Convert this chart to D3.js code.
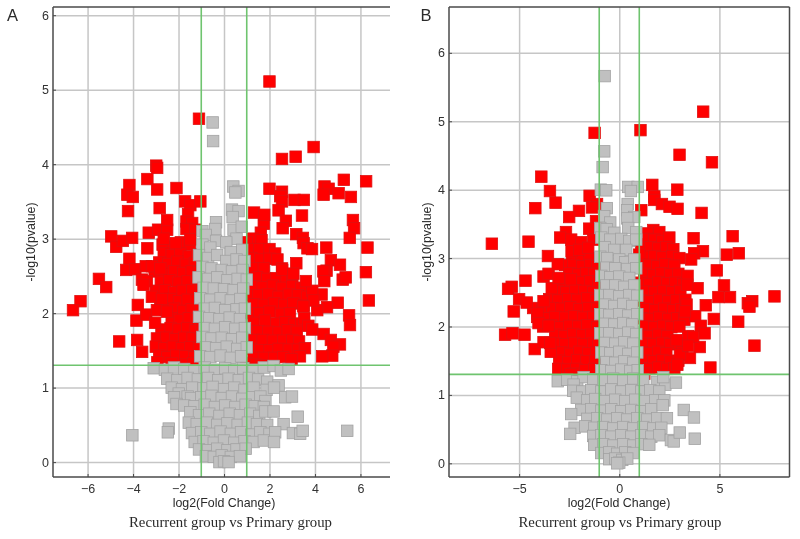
<!DOCTYPE html>
<html><head><meta charset="utf-8"><title>Volcano plots</title>
<script src="https://cdn.jsdelivr.net/npm/d3@7"></script>
<style>html,body{margin:0;padding:0;background:#fff}svg{display:block;filter:blur(.35px)}</style></head>
<body><svg id="c" width="800" height="539"></svg>
<script>
const xTicksA=[-6,-4,-2,0,2,4,6], yTicksA=[0,1,2,3,4,5,6];
const xTicksB=[-5,0,5], yTicksB=[0,1,2,3,4,5,6];
const foldCut=[-1,1], pCut=[1.3];
const xLabel="log2(Fold Change)", yLabel="-log10(pvalue)", caption="Recurrent group vs Primary group";
const panelNames=["A","B"];

const aRedLeftSparse=[[-1.1,4.61],[-2.98,3.98],[-2.94,3.95],[-3.37,3.8],[-2.94,3.66],[-4.16,3.72],[-4.25,3.59],[-4.01,3.56],[-2.09,3.68],[-4.22,3.37],[-2.83,3.41],[-1.71,3.5],[-1.48,3.45],[-1.04,3.5],[-4.96,3.03],[-4.74,2.89],[-4.45,2.97],[-4.04,3.01],[-3.31,3.08],[-2.9,3.12],[-2.5,3.12],[-2.5,3.25],[-1.58,3.33],[-1.65,3.23],[-1.4,3.21],[-1.65,3.13],[-1.26,3.12],[-3.37,2.87],[-4.16,2.73],[-1.48,2.99],[-2.65,3.0],[-2.13,2.94],[-5.5,2.46],[-5.18,2.35],[-6.31,2.16],[-6.64,2.04],[-3.79,2.11],[-3.85,1.9],[-3.42,1.98],[-3.03,1.87],[-4.61,1.62],[-3.82,1.64],[-3.6,1.48],[-4.3,2.58],[-3.9,2.59],[-3.44,2.63],[-3.17,2.63],[-2.8,2.6],[-3.61,2.45],[-3.39,2.43],[-3.54,2.38],[-3.17,2.22],[-2.73,2.19],[-2.95,2.04],[-2.51,2.02]];
const aRedLeftDense=[[-2.7,2.92],[-2.25,2.9],[-1.9,2.95],[-1.5,2.92],[-2.65,2.8],[-2.3,2.78],[-1.92,2.8],[-1.55,2.76],[-1.18,2.79],[-2.85,2.68],[-2.45,2.66],[-2.05,2.69],[-1.68,2.65],[-1.28,2.67],[-3.05,2.56],[-2.6,2.53],[-2.2,2.56],[-1.8,2.54],[-1.42,2.56],[-1.1,2.55],[-2.78,2.42],[-2.4,2.44],[-2.0,2.41],[-1.6,2.43],[-1.22,2.42],[-3.0,2.3],[-2.6,2.31],[-2.2,2.28],[-1.82,2.3],[-1.4,2.31],[-1.02,2.3],[-2.8,2.17],[-2.35,2.19],[-1.98,2.16],[-1.6,2.18],[-1.2,2.17],[-2.6,2.05],[-2.2,2.06],[-1.8,2.03],[-1.42,2.05],[-1.05,2.04],[-2.3,1.93],[-1.95,1.91],[-1.55,1.93],[-1.2,1.92],[-2.75,1.78],[-2.35,1.8],[-2.0,1.78],[-1.62,1.8],[-1.25,1.77],[-0.98,1.78],[-2.95,1.66],[-2.55,1.67],[-2.15,1.65],[-1.75,1.67],[-1.38,1.66],[-1.02,1.65],[-3.0,1.55],[-2.62,1.53],[-2.25,1.55],[-1.85,1.53],[-1.48,1.54],[-1.1,1.53],[-2.85,1.43],[-2.5,1.41],[-2.1,1.43],[-1.7,1.42],[-1.3,1.41],[-1.0,1.42],[-2.93,1.34],[-2.3,1.33],[-1.68,1.31],[-1.35,1.33],[-1.03,1.32]];
const aRedRightSparse=[[2.0,5.11],[3.94,4.23],[2.55,4.07],[3.15,4.1],[6.25,3.77],[5.27,3.79],[4.42,3.7],[4.6,3.67],[4.38,3.59],[5.04,3.61],[5.58,3.56],[2.0,3.67],[2.55,3.63],[2.47,3.57],[2.55,3.5],[3.1,3.52],[3.51,3.52],[2.4,3.38],[3.43,3.31],[2.72,3.24],[2.58,3.14],[5.67,3.25],[5.72,3.14],[5.53,3.01],[6.31,2.88],[4.5,2.88],[3.18,3.06],[3.47,3.01],[3.5,2.94],[3.67,2.87],[3.87,2.86],[3.18,2.67],[6.24,2.55],[6.37,2.17],[5.5,1.97],[5.54,1.84],[5.0,2.14],[4.53,2.08],[4.1,2.04],[4.29,2.25],[3.88,2.3],[3.93,2.17],[4.7,2.71],[5.1,2.65],[4.51,2.57],[4.37,2.56],[4.41,2.43],[5.22,2.45],[5.35,2.48],[3.6,2.43],[2.56,2.58],[3.05,2.53],[3.53,1.93],[3.71,1.83],[3.88,1.78],[4.38,1.72],[4.7,1.64],[5.1,1.58],[4.81,1.55],[4.76,1.43],[4.32,1.42],[3.56,1.53],[3.34,1.42],[2.97,1.38],[3.49,2.09],[1.32,3.35],[1.77,3.32]];
const aRedRightDense=[[1.75,3.2],[1.62,3.08],[1.25,3.0],[1.65,2.98],[1.0,2.95],[1.15,2.86],[1.55,2.86],[2.0,2.86],[2.25,2.8],[1.2,2.74],[1.6,2.72],[2.0,2.73],[2.35,2.72],[1.3,2.6],[1.75,2.6],[2.55,2.6],[1.1,2.47],[1.45,2.48],[1.9,2.46],[2.3,2.47],[2.75,2.46],[3.0,2.48],[1.3,2.36],[1.7,2.35],[2.15,2.37],[2.55,2.34],[3.0,2.36],[3.4,2.34],[1.05,2.24],[1.5,2.24],[1.95,2.25],[2.4,2.22],[2.85,2.25],[3.25,2.24],[3.65,2.22],[1.3,2.12],[1.75,2.11],[2.2,2.13],[2.65,2.11],[3.05,2.13],[3.5,2.1],[1.1,2.0],[1.55,2.0],[2.0,2.02],[2.5,1.99],[2.9,2.0],[1.3,1.87],[1.8,1.9],[2.3,1.86],[2.7,1.88],[3.1,1.85],[3.4,1.86],[1.1,1.76],[1.5,1.76],[1.95,1.75],[2.4,1.74],[2.8,1.77],[3.2,1.75],[1.3,1.64],[1.7,1.64],[2.15,1.63],[2.6,1.63],[3.0,1.64],[3.3,1.62],[1.15,1.52],[1.6,1.5],[2.0,1.5],[2.4,1.52],[2.85,1.51],[3.25,1.51],[1.3,1.4],[1.75,1.4],[2.2,1.4],[2.6,1.41],[0.98,1.33],[1.4,1.31],[1.65,1.3]];
const aGrayUpper=[[-0.5,4.56],[-0.48,4.31],[0.41,3.7],[0.64,3.64],[0.5,3.62],[0.35,3.39],[0.64,3.37],[0.38,3.29],[-0.35,3.22],[-0.38,3.13],[0.42,3.12],[0.78,3.16],[-0.95,3.1],[-0.8,3.05],[-0.35,2.97],[0.55,3.0],[-0.95,2.92],[-0.6,2.88],[0.1,2.95],[0.3,2.82],[0.8,2.85],[-1.1,2.78],[-0.7,2.74],[-0.3,2.78],[0.1,2.7],[0.55,2.72],[0.9,2.7],[-0.95,2.62],[-0.55,2.6],[-0.1,2.58],[0.35,2.56],[0.82,2.58],[-1.12,2.48],[-0.7,2.46],[-0.3,2.48],[0.15,2.44],[0.6,2.46],[1.0,2.45],[-0.9,2.34],[-0.45,2.33],[0,2.32],[0.42,2.31],[0.85,2.33],[-1.05,2.2],[-0.6,2.18],[-0.15,2.2],[0.3,2.17],[0.72,2.19],[-0.85,2.06],[-0.4,2.07],[0.05,2.04],[0.55,2.05],[0.92,2.06],[-1.1,1.95],[-0.65,1.93],[-0.2,1.92],[0.25,1.94],[0.7,1.92],[-0.85,1.8],[-0.4,1.79],[0.05,1.81],[0.5,1.79],[0.92,1.8],[-0.95,1.68],[-0.55,1.66],[-0.1,1.67],[0.35,1.65],[0.8,1.67],[-0.8,1.54],[-0.35,1.53],[0.12,1.55],[0.58,1.52],[1.0,1.54],[-1.05,1.42],[-0.6,1.41],[-0.15,1.43],[0.3,1.4],[0.75,1.42]];
const aGrayLower=[[-3.09,1.26],[-2.6,1.24],[-2.2,1.27],[-1.75,1.25],[-1.3,1.23],[-0.85,1.27],[-0.4,1.24],[0.05,1.26],[0.45,1.23],[0.85,1.26],[1.3,1.24],[1.75,1.27],[2.18,1.29],[2.5,1.23],[2.84,1.25],[-2.5,1.12],[-2.05,1.1],[-1.6,1.13],[-1.15,1.11],[-0.7,1.13],[-0.25,1.1],[0.2,1.12],[0.65,1.1],[1.1,1.13],[1.5,1.11],[1.9,1.08],[2.4,1.03],[-2.3,1.0],[-1.85,0.98],[-1.4,1.0],[-0.9,0.99],[-0.5,1.01],[0,0.98],[0.45,1.0],[0.9,0.97],[1.3,1.0],[1.87,0.97],[2.2,1.0],[-1.99,0.92],[-2.2,0.87],[-1.6,0.88],[-1.45,0.86],[-1.0,0.87],[-0.55,0.89],[-0.1,0.86],[0.35,0.88],[0.8,0.85],[1.25,0.87],[1.6,0.88],[1.82,0.82],[2.69,0.87],[2.99,0.88],[-2.09,0.78],[-1.75,0.76],[-1.3,0.75],[-0.85,0.77],[-0.4,0.74],[0.05,0.76],[0.5,0.74],[0.95,0.77],[1.35,0.75],[1.75,0.74],[-1.48,0.67],[-1.1,0.63],[-0.65,0.65],[-0.2,0.62],[0.25,0.65],[0.7,0.63],[1.15,0.65],[1.55,0.62],[1.82,0.68],[2.18,0.68],[3.24,0.61],[-1.55,0.53],[-1.2,0.51],[-0.75,0.53],[-0.3,0.5],[0.15,0.52],[0.6,0.5],[1.05,0.53],[1.45,0.51],[1.9,0.5],[2.62,0.51],[-4.03,0.36],[-2.43,0.45],[-2.47,0.4],[5.42,0.42],[-1.41,0.39],[-1.0,0.4],[-0.6,0.38],[-0.15,0.41],[0.3,0.38],[0.75,0.4],[1.2,0.37],[1.6,0.4],[2.0,0.38],[2.25,0.4],[3.03,0.39],[3.35,0.38],[3.46,0.42],[-1.29,0.27],[-0.9,0.28],[-0.45,0.26],[0,0.29],[0.45,0.26],[0.9,0.28],[1.3,0.27],[1.75,0.29],[2.2,0.27],[-1.1,0.17],[-0.7,0.16],[-0.3,0.18],[0.15,0.16],[0.55,0.17],[0.95,0.18],[-0.8,0.08],[-0.45,0.07],[-0.1,0.09],[0.3,0.07],[0.7,0.08],[-0.2,0],[0,0.01],[0.2,0]];

const bRedLeftSparse=[[-1.23,4.83],[-3.89,4.19],[-3.46,3.98],[-4.19,3.73],[-3.18,3.81],[-1.48,3.91],[-1.11,3.79],[-1.36,3.74],[-2.01,3.69],[-2.5,3.6],[-1.16,3.54],[-1.5,3.43],[-2.66,3.38],[-2.95,3.3],[-2.4,3.27],[-1.9,3.23],[-1.3,3.27],[-6.36,3.21],[-4.53,3.24],[-3.56,3.03],[-4.68,2.67],[-5.37,2.58],[-5.55,2.55],[-5.0,2.4],[-4.62,2.35],[-5.27,2.22],[-5.7,1.88],[-5.33,1.9],[-4.73,1.88],[-4.22,1.67],[-3.78,1.77],[-3.42,1.63],[-3.45,1.76],[-3.78,2.73],[-3.53,2.77],[-3.07,2.91],[-3.78,2.37],[-4.08,2.19],[-4.03,2.05],[-3.53,2.01],[-3.37,2.56],[-3.03,2.71],[-2.42,2.69],[-2.38,3.1],[-2.0,3.12],[-1.55,3.15]];
const bRedLeftDense=[[-2.35,3.0],[-1.9,3.02],[-1.5,3.0],[-2.7,2.9],[-2.3,2.9],[-1.85,2.88],[-1.45,2.9],[-1.1,2.88],[-2.5,2.78],[-2.05,2.76],[-1.65,2.78],[-1.25,2.77],[-2.8,2.65],[-2.35,2.62],[-1.9,2.65],[-1.45,2.66],[-1.05,2.64],[-3.1,2.52],[-2.65,2.5],[-2.2,2.53],[-1.75,2.52],[-1.3,2.5],[-3.5,2.4],[-3.05,2.38],[-2.55,2.4],[-2.1,2.39],[-1.6,2.41],[-1.15,2.38],[-4.3,2.27],[-3.85,2.25],[-3.35,2.27],[-2.9,2.26],[-2.45,2.28],[-2.0,2.25],[-1.55,2.27],[-1.1,2.26],[-4.1,2.14],[-3.65,2.12],[-3.2,2.14],[-2.7,2.13],[-2.25,2.15],[-1.8,2.13],[-1.3,2.14],[-3.8,2.0],[-3.4,2.02],[-2.95,1.99],[-2.5,2.01],[-2.05,2.0],[-1.6,2.02],[-1.1,1.99],[-3.2,1.88],[-2.75,1.86],[-2.3,1.89],[-1.85,1.87],[-1.4,1.88],[-3.2,1.75],[-2.7,1.74],[-2.25,1.76],[-1.8,1.74],[-1.3,1.75],[-1.05,1.76],[-2.9,1.62],[-2.45,1.6],[-2.0,1.63],[-1.55,1.61],[-1.15,1.62],[-3.0,1.5],[-2.55,1.48],[-2.1,1.51],[-1.65,1.49],[-1.2,1.5],[-3.05,1.38],[-2.6,1.37],[-2.15,1.38],[-1.7,1.36],[-1.25,1.38],[-2.3,1.31],[-2.45,1.3]];
const bRedRightSparse=[[4.19,5.14],[1.06,4.87],[3.01,4.51],[4.63,4.4],[1.65,4.07],[2.9,4.0],[1.75,3.9],[1.75,3.85],[2.13,3.79],[2.51,3.75],[2.91,3.72],[1.1,3.7],[4.11,3.66],[3.71,3.29],[5.66,3.32],[4.18,3.1],[3.74,3.07],[5.97,3.07],[5.37,3.05],[4.87,2.82],[5.23,2.6],[3.91,2.56],[4.95,2.43],[5.53,2.43],[7.75,2.44],[6.64,2.37],[6.42,2.34],[6.5,2.29],[4.32,2.31],[4.72,2.11],[5.94,2.07],[3.79,2.15],[4.07,2.01],[4.26,1.9],[4.02,1.7],[6.75,1.72],[4.55,1.4],[3.59,2.98],[3.41,2.74],[3.39,2.61],[3.36,2.32],[3.28,2.22],[3.44,1.86],[3.69,1.85],[3.53,1.54],[3.03,1.59],[2.9,1.44],[3.44,1.72],[2.86,1.8]];
const bRedRightDense=[[1.7,3.41],[2.0,3.38],[1.4,3.36],[1.35,3.28],[1.75,3.27],[2.15,3.25],[2.5,3.3],[1.1,3.15],[1.55,3.16],[1.95,3.14],[2.35,3.16],[2.7,3.13],[1.3,3.02],[1.75,3.03],[2.15,3.01],[2.65,3.03],[3.0,3.0],[1.0,3.05],[1.1,2.9],[1.5,2.9],[1.9,2.88],[2.3,2.91],[2.75,2.89],[1.25,2.77],[1.7,2.75],[2.1,2.78],[2.55,2.76],[2.95,2.77],[1.1,2.64],[1.5,2.62],[1.95,2.65],[2.4,2.63],[2.8,2.64],[3.2,2.62],[1.3,2.51],[1.75,2.5],[2.2,2.52],[2.65,2.5],[3.05,2.52],[1.1,2.38],[1.55,2.37],[2.0,2.39],[2.45,2.37],[2.85,2.38],[3.3,2.39],[1.35,2.25],[1.8,2.24],[2.25,2.26],[2.7,2.24],[3.1,2.25],[1.1,2.12],[1.55,2.11],[2.0,2.13],[2.45,2.11],[2.9,2.12],[3.25,2.1],[1.3,2.0],[1.75,1.99],[2.2,2.01],[2.6,1.99],[3.0,2.0],[1.05,1.87],[1.5,1.86],[1.95,1.88],[2.4,1.86],[1.3,1.75],[1.7,1.74],[2.15,1.76],[2.55,1.74],[3.0,1.75],[1.1,1.62],[1.5,1.61],[1.95,1.63],[2.35,1.61],[3.15,1.62],[1.25,1.5],[1.7,1.49],[2.15,1.51],[2.55,1.49],[2.95,1.5],[1.1,1.39],[1.5,1.38],[1.95,1.4],[2.4,1.38],[2.75,1.39],[1.25,1.31]];
const bGrayUpper=[[-0.73,5.66],[-0.75,4.56],[-0.83,4.33],[-0.92,4.0],[-0.65,3.99],[0.45,4.04],[0.92,4.04],[0.58,3.98],[0.42,3.79],[-0.62,3.73],[-0.75,3.61],[0.4,3.7],[0.75,3.6],[0.4,3.58],[-0.45,3.52],[-0.95,3.44],[-0.63,3.42],[0.45,3.44],[0.85,3.38],[-0.25,3.37],[-0.9,3.3],[-0.45,3.27],[0.1,3.28],[0.5,3.25],[0.85,3.27],[-0.72,3.16],[-0.25,3.12],[0.35,3.12],[-0.95,3.02],[-0.6,3.0],[0,2.98],[0.3,2.94],[0.75,2.98],[-0.65,2.86],[-0.2,2.85],[0.4,2.84],[0.85,2.85],[-0.9,2.74],[-0.45,2.72],[0,2.73],[0.5,2.71],[-0.65,2.6],[-0.2,2.6],[0.25,2.58],[0.75,2.6],[-0.95,2.46],[-0.5,2.46],[0,2.44],[0.5,2.46],[0.9,2.45],[-0.7,2.32],[-0.25,2.3],[0.2,2.33],[0.65,2.3],[-0.95,2.18],[-0.5,2.17],[0,2.18],[0.45,2.16],[0.9,2.18],[-0.7,2.04],[-0.25,2.03],[0.2,2.05],[0.65,2.03],[-0.95,1.9],[-0.5,1.9],[0,1.89],[0.45,1.91],[0.85,1.89],[-0.7,1.76],[-0.2,1.75],[0.25,1.77],[0.7,1.75],[-0.9,1.62],[-0.45,1.61],[0,1.63],[0.45,1.6],[0.9,1.62],[-0.65,1.48],[-0.2,1.47],[0.25,1.49],[0.7,1.47],[-0.9,1.36],[-0.4,1.35],[0.1,1.37],[0.55,1.35],[0.92,1.36]];
const bGrayLower=[[-3.07,1.2],[-2.6,1.22],[-2.1,1.2],[-1.78,1.26],[-1.3,1.23],[-0.8,1.22],[-0.3,1.24],[0.2,1.21],[0.7,1.24],[1.2,1.22],[1.88,1.19],[2.3,1.15],[2.2,1.26],[2.83,1.18],[-2.28,1.15],[-2.3,1.06],[-1.85,1.05],[-1.4,1.07],[-0.9,1.05],[-0.4,1.08],[0.1,1.05],[0.6,1.07],[1.1,1.05],[1.55,1.07],[2.0,1.05],[-2.12,0.96],[-1.6,0.92],[-1.2,0.94],[-0.7,0.91],[-0.2,0.93],[0.3,0.91],[0.8,0.93],[1.3,0.91],[1.8,0.92],[2.25,0.92],[-1.9,0.78],[-1.4,0.79],[-0.9,0.77],[-0.4,0.79],[0.1,0.76],[0.6,0.78],[1.1,0.76],[1.6,0.79],[2.17,0.85],[-2.4,0.72],[-1.6,0.65],[-1.1,0.66],[-0.6,0.64],[-0.1,0.66],[0.4,0.64],[0.9,0.66],[1.4,0.64],[1.9,0.66],[2.38,0.66],[3.22,0.78],[3.73,0.67],[-2.23,0.52],[-1.7,0.54],[-1.25,0.52],[-0.8,0.53],[-0.3,0.51],[0.2,0.53],[0.7,0.51],[1.2,0.53],[1.7,0.51],[2.1,0.52],[-2.45,0.43],[-1.3,0.4],[-0.9,0.41],[-0.4,0.39],[0.1,0.41],[0.6,0.39],[1.1,0.41],[1.6,0.39],[2.0,0.41],[2.58,0.34],[2.72,0.32],[3.02,0.45],[3.77,0.36],[-1.25,0.27],[-0.8,0.28],[-0.3,0.26],[0.2,0.28],[0.7,0.26],[1.1,0.28],[1.5,0.27],[-0.9,0.15],[-0.5,0.16],[-0.1,0.14],[0.3,0.16],[0.7,0.15],[-0.5,0.06],[-0.2,0.07],[0.15,0.05],[0.4,0.07],[0,0.01],[-0.1,0]];

const aRed=[...aRedLeftDense,...aRedLeftSparse,...aRedRightDense,...aRedRightSparse];
const aGray=[...aGrayUpper,...aGrayLower];
const bRed=[...bRedLeftDense,...bRedLeftSparse,...bRedRightDense,...bRedRightSparse];
const bGray=[...bGrayUpper,...bGrayLower];

const svg=d3.select("#c");
const SZ=11.5;
function panel(o){
  const x=d3.scaleLinear().domain(o.xd).range([o.l,o.r]);
  const y=d3.scaleLinear().domain(o.yd).range([o.b,o.t]);
  const g=svg.append("g");
  const gx=g.append("g").attr("transform",`translate(0,${o.b})`)
    .call(d3.axisBottom(x).tickValues(o.xt).tickSize(o.t-o.b).tickPadding(0));
  gx.select(".domain").remove();
  gx.selectAll("line").attr("stroke","#c6c6c6").attr("stroke-width",1.5);
  gx.selectAll("text").remove();
  const gy=g.append("g").attr("transform",`translate(${o.l},0)`)
    .call(d3.axisLeft(y).tickValues(o.yt).tickSize(o.l-o.r));
  gy.select(".domain").remove();
  gy.selectAll("line").attr("stroke","#c6c6c6").attr("stroke-width",1.5);
  gy.selectAll("text").remove();

  const sq=(data,fill,stroke)=>g.append("g").selectAll("rect").data(data).join("rect")
    .attr("x",d=>x(d[0])-SZ/2).attr("y",d=>y(d[1])-SZ/2).attr("width",SZ).attr("height",SZ)
    .attr("fill",fill).attr("stroke",stroke).attr("stroke-width",.8);
  sq(o.red,"#ff0000","#e01010");
  sq(o.gray,"#c0c0c0","#a2a2a2");

  const green="#6fc46f";
  foldCut.forEach(v=>g.append("line").attr("x1",x(v)).attr("x2",x(v)).attr("y1",o.t).attr("y2",o.b).attr("stroke",green).attr("stroke-width",1.6));
  pCut.forEach(v=>g.append("line").attr("x1",o.l).attr("x2",o.r).attr("y1",y(v)).attr("y2",y(v)).attr("stroke",green).attr("stroke-width",1.6));

  const dark="#4a4a4a";
  const border=[[o.l,o.t,o.r,o.t],[o.l,o.t,o.l,o.b],[o.l,o.b,o.r,o.b]];
  if(o.rightBorder) border.push([o.r,o.t,o.r,o.b]);
  border.forEach(c=>g.append("line").attr("x1",c[0]).attr("y1",c[1]).attr("x2",c[2]).attr("y2",c[3]).attr("stroke",dark).attr("stroke-width",1.5));

  const fx=g.append("g").attr("transform",`translate(0,${o.b})`).call(d3.axisBottom(x).tickValues(o.xt).tickSize(-3).tickPadding(7).tickFormat(d3.format("d")));
  const fy=g.append("g").attr("transform",`translate(${o.l},0)`).call(d3.axisLeft(y).tickValues(o.yt).tickSize(-3).tickPadding(4).tickFormat(d3.format("d")));
  [fx,fy].forEach(s=>{s.select(".domain").remove();s.selectAll("line").attr("stroke",dark);
    s.selectAll("text").attr("font-family","Liberation Sans").attr("font-size",12.5).attr("fill","#333");});

  const txt=(t,px,py,size,fam,rot)=>g.append("text").text(t).attr("text-anchor","middle").attr("dominant-baseline","central")
    .attr("transform",`translate(${px},${py})${rot?" rotate(-90)":""}`).attr("font-family",fam).attr("font-size",size).attr("fill","#2a2a2a");
  txt(xLabel,o.cx,503,12.4,"Liberation Sans");
  txt(yLabel,o.yx,242,12.4,"Liberation Sans",true);
  txt(caption,o.capx,522,14.8,"Liberation Serif");
  txt(o.name,o.nx,15,16.5,"Liberation Sans");
}
panel({name:panelNames[0],nx:12.5,xd:[-7.52,7.3],yd:[-0.2,6.11],l:53,r:390,t:7,b:477,xt:xTicksA,yt:yTicksA,red:aRed,gray:aGray,cx:224,yx:31,capx:230.5,rightBorder:false});
panel({name:panelNames[1],nx:426,xd:[-8.5,8.5],yd:[-0.2,6.67],l:449,r:789.5,t:7,b:477,xt:xTicksB,yt:yTicksB,red:bRed,gray:bGray,cx:619,yx:427,capx:620,rightBorder:true});
</script></body></html>
